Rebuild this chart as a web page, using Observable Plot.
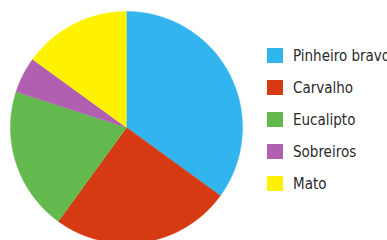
<!DOCTYPE html>
<html><head><meta charset="utf-8">
<script src="https://cdn.jsdelivr.net/npm/d3@7"></script>
<script src="https://cdn.jsdelivr.net/npm/@observablehq/plot@0.6"></script>
<style>
body{margin:0;background:#fff;overflow:hidden;}
#wrap{position:relative;width:387px;height:240px;overflow:hidden;background:#fff;}
#wrap svg{position:absolute;left:0;top:0;}
#legend{position:absolute;left:267px;top:39.5px;font-family:"DejaVu Sans Condensed","DejaVu Sans",sans-serif;font-size:15px;color:#2a2a2a;white-space:nowrap;}
.item{display:flex;align-items:center;height:32px;}
.sw{width:16px;height:15px;margin-right:10px;flex:none;}
</style></head><body><div id="wrap"><div id="legend"></div></div>
<script>
const categories = ["Pinheiro bravo", "Carvalho", "Eucalipto", "Sobreiros", "Mato"];
const values = [35, 25, 20, 5, 15];
const colors = ["#32b5ee", "#d63a12", "#63b94e", "#b15fb0", "#fff200"];

const slices = d3.pie().sort(null).value(d => d.value)(
  categories.map((name, i) => ({name, value: values[i]}))
);
const pts = [];
for (const a of slices) {
  const n = Math.max(2, Math.ceil((a.endAngle - a.startAngle) / 0.01));
  pts.push({name: a.data.name, x: 0, y: 0});
  for (let j = 0; j <= n; j++) {
    const t = a.startAngle + (a.endAngle - a.startAngle) * j / n;
    pts.push({name: a.data.name, x: Math.sin(t), y: Math.cos(t)});
  }
}

const chart = Plot.plot({
  width: 387, height: 240, margin: 0,
  style: {background: "transparent"},
  x: {domain: [-1, 1], range: [10, 242], axis: null},
  y: {domain: [-1, 1], range: [243, 11], axis: null},
  color: {domain: categories, range: colors},
  marks: [
    Plot.line(pts, {x: "x", y: "y", z: "name", fill: "name", stroke: "name", strokeWidth: 0.5, curve: "linear"})
  ]
});
const wrap = document.getElementById("wrap");
wrap.insertBefore(chart, wrap.firstChild);

const legend = document.getElementById("legend");
categories.forEach((c, i) => {
  const item = document.createElement("div");
  item.className = "item";
  const sw = document.createElement("span");
  sw.className = "sw";
  sw.style.background = colors[i];
  const label = document.createElement("span");
  label.textContent = c;
  item.appendChild(sw);
  item.appendChild(label);
  legend.appendChild(item);
});
</script>
</body></html>
